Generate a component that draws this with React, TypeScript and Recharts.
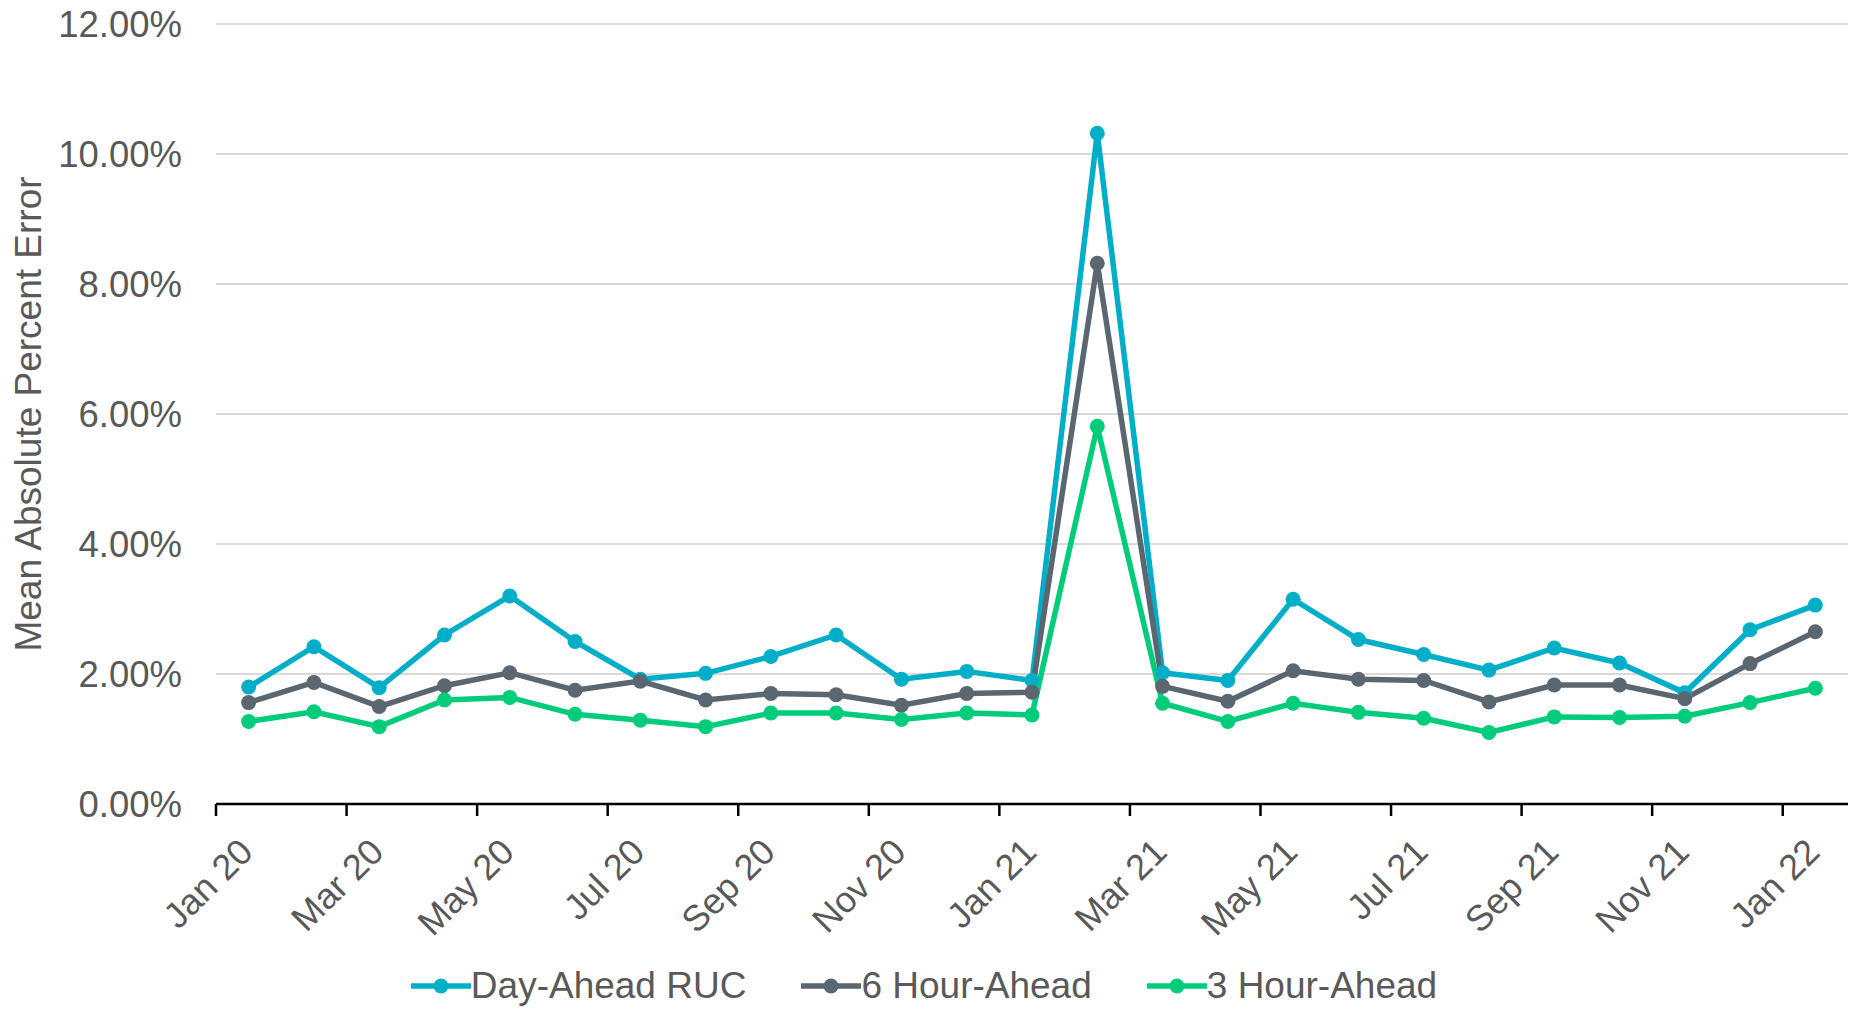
import {
  LineChart,
  Line,
  XAxis,
  YAxis,
  CartesianGrid,
  Legend,
  Label,
} from "recharts";

const months = [
  "Jan 20", "Feb 20", "Mar 20", "Apr 20", "May 20", "Jun 20", "Jul 20",
  "Aug 20", "Sep 20", "Oct 20", "Nov 20", "Dec 20", "Jan 21", "Feb 21",
  "Mar 21", "Apr 21", "May 21", "Jun 21", "Jul 21", "Aug 21", "Sep 21",
  "Oct 21", "Nov 21", "Dec 21", "Jan 22",
];

const dayAhead = [
  1.8, 2.42, 1.79, 2.6, 3.2, 2.5, 1.92, 2.01, 2.27, 2.6, 1.92, 2.04, 1.9,
  10.32, 2.02, 1.9, 3.15, 2.53, 2.3, 2.06, 2.4, 2.17, 1.71, 2.68, 3.06,
];
const sixHour = [
  1.56, 1.87, 1.5, 1.82, 2.02, 1.75, 1.89, 1.6, 1.7, 1.68, 1.52, 1.7, 1.72,
  8.32, 1.81, 1.58, 2.05, 1.92, 1.9, 1.57, 1.83, 1.83, 1.62, 2.16, 2.65,
];
const threeHour = [
  1.27, 1.42, 1.19, 1.6, 1.64, 1.38, 1.29, 1.19, 1.4, 1.4, 1.3, 1.4, 1.37,
  5.81, 1.55, 1.27, 1.55, 1.41, 1.32, 1.1, 1.34, 1.33, 1.35, 1.56, 1.78,
];

const yTicks = [0, 2, 4, 6, 8, 10, 12];
const xTicks = [0, 2, 4, 6, 8, 10, 12, 14, 16, 18, 20, 22, 24];

const series = [
  { key: "dayAhead", name: "Day-Ahead RUC", color: "#00aec8" },
  { key: "sixHour", name: "6 Hour-Ahead", color: "#5b6770" },
  { key: "threeHour", name: "3 Hour-Ahead", color: "#00cc7b" },
];

// points sit in the middle of each month slot, ticks on the slot edges
const data = months.map((m, i) => ({
  x: i + 0.5,
  month: m,
  dayAhead: dayAhead[i],
  sixHour: sixHour[i],
  threeHour: threeHour[i],
}));

const FONT = '"Liberation Sans", Arial, sans-serif';
const TEXT = "#595959";

function MonthTick(props: any) {
  const { x, y, payload } = props;
  const label = months[payload.value] ?? "";
  const ax = x + 39;
  const ay = y + 36;
  return (
    <text
      x={ax}
      y={ay}
      textAnchor="end"
      fill={TEXT}
      fontSize={36}
      fontFamily={FONT}
      transform={`rotate(-45, ${ax}, ${ay})`}
    >
      {label}
    </text>
  );
}

function LegendContent() {
  return (
    <div
      style={{
        display: "flex",
        justifyContent: "center",
        alignItems: "center",
        height: 46,
        fontFamily: FONT,
        fontSize: 37,
        color: TEXT,
      }}
    >
      {series.map((s, i) => (
        <div
          key={s.key}
          style={{
            display: "flex",
            alignItems: "center",
            marginLeft: i === 0 ? 0 : 55,
          }}
        >
          <svg width={60} height={20}>
            <line x1={0} y1={10} x2={60} y2={10} stroke={s.color} strokeWidth={5.5} />
            <circle cx={30} cy={10} r={7.5} fill={s.color} />
          </svg>
          <span>{s.name}</span>
        </div>
      ))}
    </div>
  );
}

function AxisTitle(props: any) {
  const vb = props.viewBox;
  const cx = 28;
  const cy = vb.y + vb.height / 2;
  return (
    <text
      x={cx}
      y={cy}
      textAnchor="middle"
      dominantBaseline="central"
      fill={TEXT}
      fontSize={37}
      fontFamily={FONT}
      transform={`rotate(-90, ${cx}, ${cy})`}
    >
      Mean Absolute Percent Error
    </text>
  );
}

export default function App() {
  return (
    <div style={{ width: 1851, height: 1009 }}>
      <style>{`body{margin:0}`}</style>
      <LineChart
        width={1851}
        height={1009}
        data={data}
        margin={{ top: 24, right: 3, left: 0, bottom: 0 }}
      >
        <CartesianGrid vertical={false} stroke="#d9d9d9" strokeWidth={2} />
        <XAxis
          dataKey="x"
          type="number"
          domain={[0, 25]}
          ticks={xTicks}
          interval={0}
          height={159}
          tick={<MonthTick />}
          tickSize={12}
          tickMargin={2}
          axisLine={{ stroke: "#000", strokeWidth: 2.5 }}
          tickLine={{ stroke: "#000", strokeWidth: 2.5 }}
        />
        <YAxis
          type="number"
          domain={[0, 12]}
          ticks={yTicks}
          width={216}
          axisLine={false}
          tickLine={false}
          tickSize={0}
          tickMargin={34}
          tickFormatter={(v: number) => `${v.toFixed(2)}%`}
          tick={{ fill: TEXT, fontSize: 36.5, fontFamily: FONT }}
        >
          <Label content={<AxisTitle />} />
        </YAxis>
        <Legend verticalAlign="bottom" content={<LegendContent />} />
        {series.map((s) => (
          <Line
            key={s.key}
            dataKey={s.key}
            name={s.name}
            stroke={s.color}
            strokeWidth={5.5}
            dot={{ r: 7.5, fill: s.color, stroke: s.color, strokeWidth: 0 }}
            activeDot={false}
            isAnimationActive={false}
          />
        ))}
      </LineChart>
    </div>
  );
}
